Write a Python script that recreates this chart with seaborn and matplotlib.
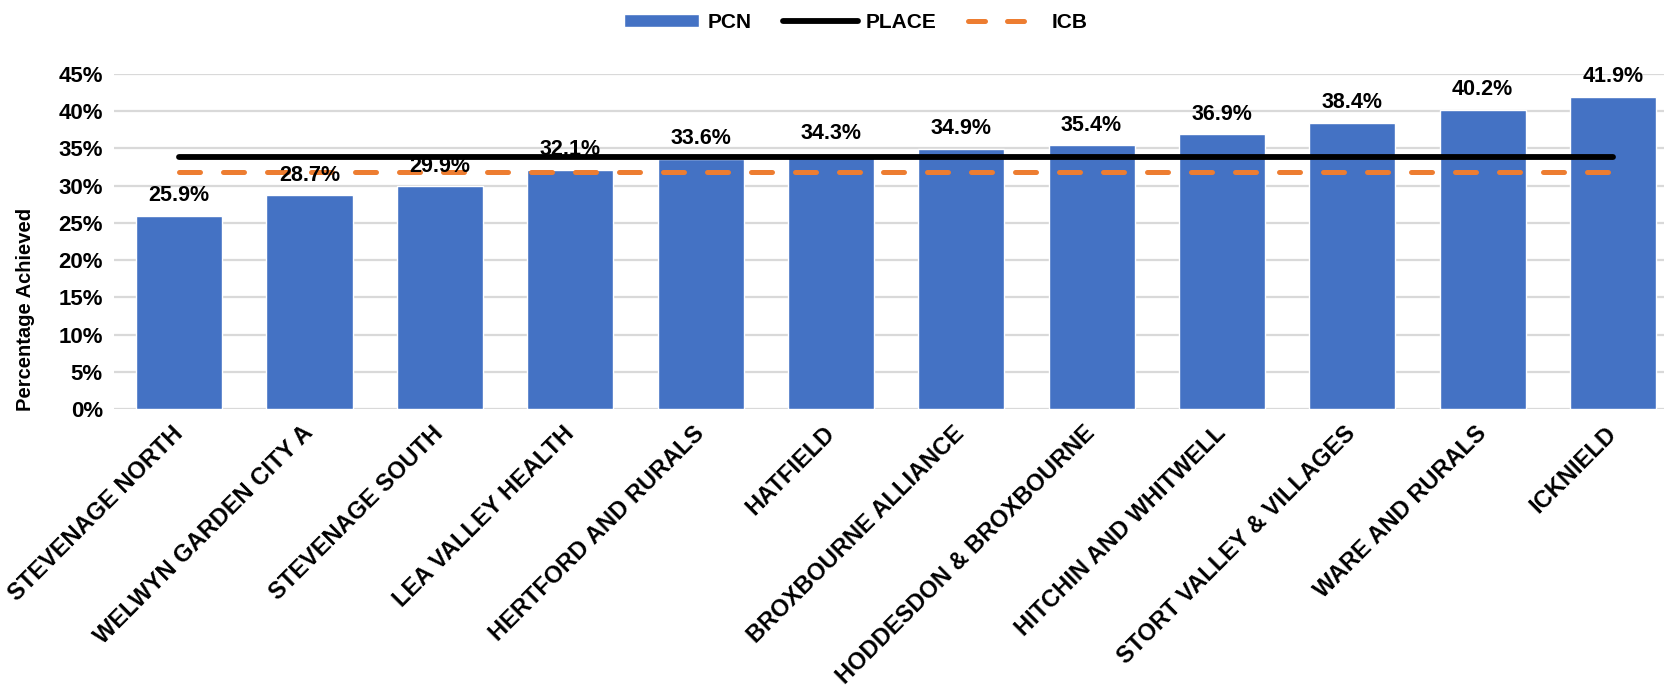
import numpy as np
import pandas as pd
import matplotlib
matplotlib.use("Agg")
import matplotlib.pyplot as plt
import seaborn as sns
from matplotlib.lines import Line2D
from matplotlib.patches import Patch

# PCN results, sorted low to high
pcn_names = [
    "STEVENAGE NORTH", "WELWYN GARDEN CITY A", "STEVENAGE SOUTH",
    "LEA VALLEY HEALTH", "HERTFORD AND RURALS", "HATFIELD",
    "BROXBOURNE ALLIANCE", "HODDESDON & BROXBOURNE", "HITCHIN AND WHITWELL",
    "STORT VALLEY & VILLAGES", "WARE AND RURALS", "ICKNIELD",
]
pcn_values = [25.9, 28.7, 29.9, 32.1, 33.6, 34.3, 34.9, 35.4, 36.9, 38.4, 40.2, 41.9]
place_value = 33.9
icb_value = 31.8
y_ticks = [0, 5, 10, 15, 20, 25, 30, 35, 40, 45]

blue = "#4472C4"
orange = "#ED7D31"

sns.set_style("white")
plt.rcParams["font.family"] = ["Liberation Sans", "DejaVu Sans"]
plt.rcParams["text.color"] = "black"
plt.rcParams["xtick.color"] = "black"
plt.rcParams["ytick.color"] = "black"
plt.rcParams["axes.labelcolor"] = "black"

df = pd.DataFrame({"pcn": pcn_names, "value": pcn_values})
n = len(pcn_names)

fig = plt.figure(figsize=(16.65, 6.87), dpi=100)
ax = fig.add_axes([114 / 1665, 0.4047, (1665 - 114) / 1665, 0.8923 - 0.4047])

sns.barplot(data=df, x="pcn", y="value", color=blue, width=0.66,
            saturation=1, ax=ax, zorder=2)

sns.lineplot(x=np.arange(n), y=[place_value] * n, color="black", lw=4.2,
             solid_capstyle="round", ax=ax, zorder=3)
sns.lineplot(x=np.arange(n), y=[icb_value] * n, color=orange, lw=3.6,
             dashes=False, ax=ax, zorder=3)
ax.lines[-1].set_linestyle((0, (4.2, 4.6)))
ax.lines[-1].set_dash_capstyle("round")

for i, v in enumerate(pcn_values):
    ax.annotate(f"{v}%", (i, v), xytext=(0, 7), textcoords="offset points",
                ha="center", va="bottom", fontsize=15.5, fontweight="bold",
                annotation_clip=False, zorder=4)

ax.set_ylim(0, 45)
ax.set_xlim(-0.5, 11.4)
ax.set_yticks(y_ticks)
ax.set_yticklabels([f"{t}%" for t in y_ticks], fontsize=16, fontweight="bold")
ax.yaxis.grid(True, color="#D9D9D9", lw=1.6, zorder=0)
ax.set_axisbelow(True)
for s in ax.spines.values():
    s.set_visible(False)
ax.tick_params(axis="both", length=0)
ax.tick_params(axis="y", pad=8)
ax.tick_params(axis="x", pad=15)
ax.set_xticks(range(n))
ax.set_xticklabels(pcn_names, rotation=45, ha="right", va="center",
                   rotation_mode="anchor", fontsize=17, fontweight="bold")
ax.set_xlabel("")
ax.set_ylabel("Percentage Achieved", fontsize=14.5, fontweight="bold")
ax.yaxis.set_label_coords(-0.051, 0.296)

handles = [
    Patch(facecolor=blue, label="PCN"),
    Line2D([], [], color="black", lw=4.2, solid_capstyle="round", label="PLACE"),
    Line2D([], [], color=orange, lw=3.6, ls=(0, (3.4, 4.4)),
           dash_capstyle="round", label="ICB"),
]
fig.legend(handles=handles, loc="center", bbox_to_anchor=(0.514, 0.967), ncol=3,
           frameon=False, handlelength=3.6, handleheight=0.6, columnspacing=1.5,
           handletextpad=0.4, prop={"weight": "bold", "size": 15})

fig.savefig("out.png", dpi=100)
